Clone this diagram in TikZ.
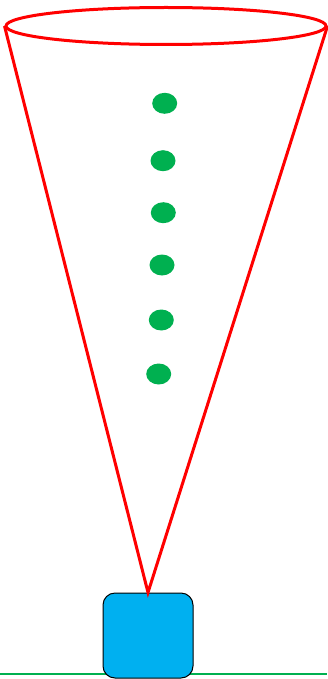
\documentclass[tikz,border=0pt]{standalone}
\usetikzlibrary{shapes.geometric}
\definecolor{conered}{RGB}{255,0,0}
\definecolor{dotgreen}{RGB}{0,176,80}
\definecolor{boxblue}{RGB}{0,176,240}
\tikzset{
  rim/.style={ellipse, draw=conered, line width=3pt, minimum width=320pt, minimum height=37pt, inner sep=0pt},
  coneline/.style={draw=conered, line width=3pt},
  dot/.style={ellipse, fill=dotgreen, minimum width=25pt, minimum height=21pt, inner sep=0pt},
  device/.style={draw=black, line width=1pt, fill=boxblue, rounded corners=12pt, minimum width=90pt, minimum height=85pt, inner sep=0pt},
  ground/.style={draw=dotgreen, line width=2.2pt}
}
\begin{document}
\begin{tikzpicture}[x=1pt,y=-1pt]
\useasboundingbox (0,0) rectangle (327,679);
\draw[ground] (0,674) coordinate (g1) -- (327,674) coordinate (g2);
\node[device] (box) at (148,635.5) {};
\node[rim] (rim) at (166,26) {};
\draw[coneline] (rim.west) -- (box.north) -- (rim.east);
\node[dot] (d1) at (164.7,103.3) {};
\node[dot] (d2) at (163,160.7) {};
\node[dot] (d3) at (163.3,212.7) {};
\node[dot] (d4) at (162,265) {};
\node[dot] (d5) at (161.3,320) {};
\node[dot] (d6) at (158.7,374) {};
\end{tikzpicture}
\end{document}
